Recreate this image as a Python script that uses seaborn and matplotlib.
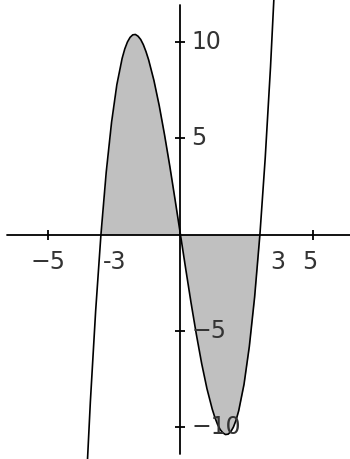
import matplotlib
matplotlib.use("Agg")
import matplotlib.pyplot as plt
import seaborn as sns
import pandas as pd

# curve samples (cubic through -3, 0, 3)
x_vals = [-3.6, -3.4, -3.2, -3.0, -2.8, -2.6, -2.4, -2.2, -2.1, -2.0, -1.9, -1.8, -1.7,
          -1.6, -1.5, -1.4, -1.3, -1.2, -1.0, -0.8, -0.6, -0.4, -0.2, 0.0,
          0.2, 0.4, 0.6, 0.8, 1.0, 1.2, 1.3, 1.4, 1.5, 1.6, 1.7, 1.8, 1.9,
          2.0, 2.1, 2.2, 2.4, 2.6, 2.8, 3.0, 3.2, 3.4, 3.6]
y_vals = [-14.26, -8.70, -3.97, 0.0, 3.25, 5.82, 7.78, 9.15, 9.64, 10.0, 10.24, 10.37, 10.39,
          10.30, 10.13, 9.86, 9.50, 9.07, 8.0, 6.69, 5.18, 3.54, 1.79, 0.0,
          -1.79, -3.54, -5.18, -6.69, -8.0, -9.07, -9.50, -9.86, -10.13, -10.30, -10.39, -10.37, -10.24,
          -10.0, -9.64, -9.15, -7.78, -5.82, -3.25, 0.0, 3.97, 8.70, 14.26]

x_ticks = [-5, 5]
x_labels = ["\u22125", "-3", "3", "5"]
x_label_pos = [-5.0, -2.92, 3.38, 4.89]
y_ticks = [10, 5, -5, -10]
y_labels = ["10", "5", "\u22125", "\u221210"]

df = pd.DataFrame({"x": x_vals, "y": y_vals})

sns.set_style("white")
plt.rcParams["font.family"] = ["DejaVu Sans"]

fig = plt.figure(figsize=(3.5, 4.59), dpi=100)
ax = fig.add_axes([0, 0, 1, 1])
ax.set_xlim(-6.81, 6.4)
ax.set_ylim(-11.66, 12.18)
ax.axis("off")

# shaded region between curve and x axis
inside = (df["x"] >= -3) & (df["x"] <= 3)
ax.fill_between(df["x"][inside], df["y"][inside], 0, color="#c0c0c0", lw=0)

# axes
ax.axhline(0, xmin=0.02, xmax=1, color="black", lw=1.3)
ax.axvline(0, ymin=0.01, ymax=0.99, color="black", lw=1.3)

sns.lineplot(data=df, x="x", y="y", sort=False, color="black", lw=1.2, ax=ax)

# tick marks
ax.plot(x_ticks, [0] * len(x_ticks), ls="none", marker="|", ms=7, mew=1.3, color="black")
ax.plot([0] * len(y_ticks), y_ticks, ls="none", marker="_", ms=7, mew=1.3, color="black")

for pos, lab in zip(x_label_pos, x_labels):
    ha = "left" if lab in ("-3", "3") else "center"
    ax.text(pos, -1.43, lab, ha=ha, va="center", fontsize=17, color="#333333")
for val, lab in zip(y_ticks, y_labels):
    ax.text(0.42, val, lab, ha="left", va="center", fontsize=17, color="#333333")

fig.savefig("out.png", dpi=100, facecolor="white")
